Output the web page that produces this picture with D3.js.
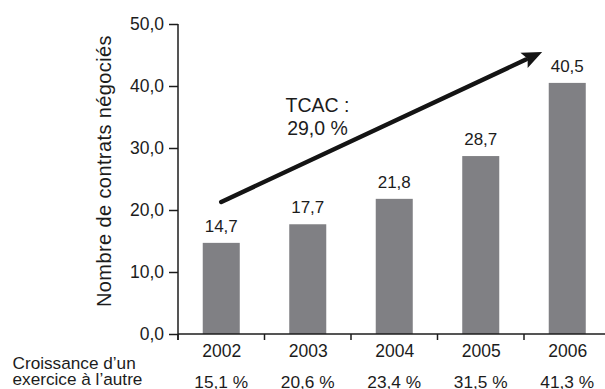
<!DOCTYPE html>
<html>
<head>
<meta charset="utf-8">
<script src="https://cdn.jsdelivr.net/npm/d3@7/dist/d3.min.js"></script>
<style>
  html, body { margin: 0; padding: 0; background: #fff; }
  svg { display: block; font-family: "Liberation Sans", Arial, Helvetica, sans-serif; }
</style>
</head>
<body>
<svg id="chart" width="605" height="389"></svg>
<script>
// Contrats négociés par exercice
const years = ["2002", "2003", "2004", "2005", "2006"];
const contracts = [14.7, 17.7, 21.8, 28.7, 40.5];
// Croissance d'un exercice à l'autre (%)
const growth = [15.1, 20.6, 23.4, 31.5, 41.3];
const yTicks = [0, 10, 20, 30, 40, 50];
const cagr = 29.0;
// Flèche de tendance : départ et arrivée en coordonnées de données
const trendStart = { year: "2002", pos: 0.5, value: 21.3 };
const trendEnd = { year: "2006", pos: 0.21, value: 45.5 };

const fr = v => d3.format(".1f")(v).replace(".", ",");

const svg = d3.select("#chart");
const W = 605, H = 389;
const plotLeft = 178, plotBottom = 334, plotTop = 24;
const step = 86.5;

const x = d3.scaleBand().domain(years)
  .range([plotLeft, plotLeft + step * years.length])
  .paddingInner(0.572).paddingOuter(0.286);
const y = d3.scaleLinear().domain([0, 50]).range([plotBottom, plotTop]);

const ink = "#1c1c1c";
const bandStart = d => x(d) - x.step() * x.paddingOuter();
const bandMid = d => x(d) + x.bandwidth() / 2;

// Barres
svg.append("g").selectAll("rect").data(years).join("rect")
  .attr("x", d => x(d))
  .attr("width", x.bandwidth())
  .attr("y", (d, i) => y(contracts[i]))
  .attr("height", (d, i) => y(0) - y(contracts[i]))
  .attr("fill", "#808084");

// Valeurs au-dessus des barres
svg.append("g").selectAll("text").data(years).join("text")
  .attr("x", bandMid)
  .attr("y", (d, i) => y(contracts[i]) - 11)
  .attr("text-anchor", "middle")
  .attr("font-size", 17)
  .attr("fill", ink)
  .text((d, i) => fr(contracts[i]));

// Axe vertical
const yAxis = svg.append("g")
  .attr("transform", `translate(${plotLeft},0)`)
  .call(d3.axisLeft(y).tickValues(yTicks).tickSize(9).tickPadding(5).tickFormat(fr));
yAxis.select(".domain").remove();
yAxis.selectAll(".tick line").attr("stroke", ink).attr("stroke-width", 1.5);
yAxis.selectAll(".tick text")
  .attr("font-size", 17.5).attr("fill", ink)
  .attr("font-family", "Liberation Sans, Arial, sans-serif")
  .attr("dy", "0.3em");
svg.append("line")
  .attr("x1", plotLeft).attr("x2", plotLeft)
  .attr("y1", y(50)).attr("y2", plotBottom + 6)
  .attr("stroke", ink).attr("stroke-width", 1.5);

// Axe horizontal avec graduations entre les catégories
svg.append("line")
  .attr("x1", plotLeft).attr("x2", W)
  .attr("y1", plotBottom).attr("y2", plotBottom)
  .attr("stroke", ink).attr("stroke-width", 1.5);
svg.append("g").selectAll("line").data(years).join("line")
  .attr("x1", bandStart)
  .attr("x2", bandStart)
  .attr("y1", plotBottom).attr("y2", plotBottom + 6)
  .attr("stroke", ink).attr("stroke-width", 1.5);

// Années
svg.append("g").selectAll("text").data(years).join("text")
  .attr("x", d => bandMid(d) + 0.5)
  .attr("y", 356.5)
  .attr("text-anchor", "middle")
  .attr("font-size", 17.5)
  .attr("fill", ink)
  .text(d => d);

// Croissance annuelle
svg.append("g").selectAll("text").data(years).join("text")
  .attr("x", bandMid)
  .attr("y", 387.5)
  .attr("text-anchor", "middle")
  .attr("font-size", 17.3)
  .attr("fill", ink)
  .text((d, i) => fr(growth[i]) + " %");

const rowLabel = svg.append("text")
  .attr("font-size", 17.2)
  .attr("fill", ink);
rowLabel.append("tspan").attr("x", 12.5).attr("y", 369).text("Croissance d’un");
rowLabel.append("tspan").attr("x", 12.5).attr("y", 385).text("exercice à l’autre");

// Titre de l'axe vertical
svg.append("text")
  .attr("transform", "translate(110.5,171) rotate(-90)")
  .attr("text-anchor", "middle")
  .attr("font-size", 20)
  .attr("letter-spacing", 0.4)
  .attr("fill", ink)
  .text("Nombre de contrats négociés");

// Flèche de croissance annuelle moyenne
const x0 = bandStart(trendStart.year) + x.step() * trendStart.pos;
const y0 = y(trendStart.value);
const x1 = bandStart(trendEnd.year) + x.step() * trendEnd.pos;
const y1 = y(trendEnd.value);
const ang = Math.atan2(y1 - y0, x1 - x0);
const headLen = 20, headHalf = 8.5;
const bx = x1 - headLen * Math.cos(ang), by = y1 - headLen * Math.sin(ang);
svg.append("line")
  .attr("x1", x0).attr("y1", y0)
  .attr("x2", bx + 2 * Math.cos(ang)).attr("y2", by + 2 * Math.sin(ang))
  .attr("stroke", "#141414").attr("stroke-width", 4.5)
  .attr("stroke-linecap", "round");
svg.append("path")
  .attr("d", d3.line()([
    [x1, y1],
    [bx - headHalf * Math.sin(ang), by + headHalf * Math.cos(ang)],
    [bx + 4 * Math.cos(ang), by + 4 * Math.sin(ang)],
    [bx + headHalf * Math.sin(ang), by - headHalf * Math.cos(ang)]
  ]) + "Z")
  .attr("fill", "#141414");

// Libellé du TCAC
const cagrLabel = svg.append("text")
  .attr("text-anchor", "middle")
  .attr("font-size", 19.5)
  .attr("fill", ink);
cagrLabel.append("tspan").attr("x", 317.5).attr("y", 112).text("TCAC :");
cagrLabel.append("tspan").attr("x", 317.5).attr("y", 135).text(fr(cagr) + " %");
</script>
</body>
</html>
